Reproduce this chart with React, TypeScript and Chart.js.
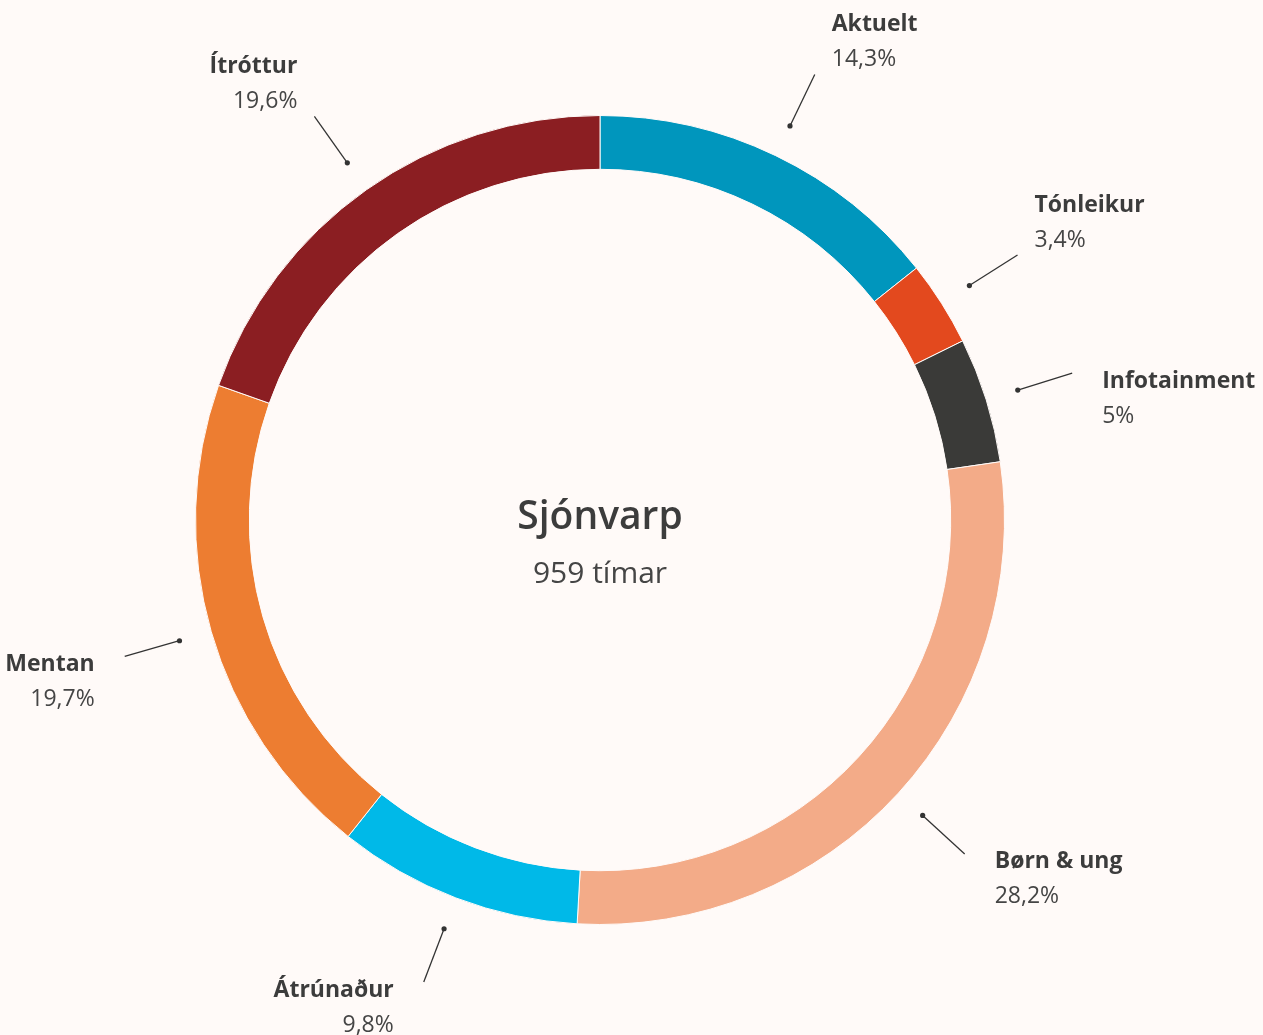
import React, { useEffect, useRef } from "react";
import { Chart, registerables } from "chart.js";

Chart.register(...registerables);

const categories = ["Aktuelt", "Tónleikur", "Infotainment", "Børn & ung", "Átrúnaður", "Mentan", "Ítróttur"];
const shares = [14.3, 3.4, 5, 28.2, 9.8, 19.7, 19.6];
const shareLabels = ["14,3%", "3,4%", "5%", "28,2%", "9,8%", "19,7%", "19,6%"];
const colors = ["#0096bd", "#e3491e", "#3a3a38", "#f3ab88", "#00b9e8", "#ed7d31", "#8b1e22"];
const centerTitle = "Sjónvarp";
const centerSubtitle = "959 tímar";

const BG = "#fffaf8";
const FONT = "'Open Sans'";

const labelPlugin = {
  id: "sliceLabels",
  afterDatasetsDraw(chart: any) {
    const ctx = chart.ctx as CanvasRenderingContext2D;
    const meta = chart.getDatasetMeta(0);
    ctx.save();
    meta.data.forEach((arc: any, i: number) => {
      const { x, y, startAngle, endAngle, outerRadius } = arc.getProps(
        ["x", "y", "startAngle", "endAngle", "outerRadius"],
        true
      );
      const mid = (startAngle + endAngle) / 2;
      const ux = Math.cos(mid);
      const uy = Math.sin(mid);
      const r1 = outerRadius + 33;
      const r2 = outerRadius + 90;
      const x1 = x + ux * r1, y1 = y + uy * r1;
      const x2 = x + ux * r2, y2 = y + uy * r2;
      ctx.strokeStyle = "#333333";
      ctx.lineWidth = 1.3;
      ctx.beginPath();
      ctx.moveTo(x1, y1);
      ctx.lineTo(x2, y2);
      ctx.stroke();
      ctx.fillStyle = "#333333";
      ctx.beginPath();
      ctx.arc(x1, y1, 2.6, 0, Math.PI * 2);
      ctx.fill();

      const upper = uy < -0.45;
      const side = ux >= 0 ? 1 : -1;
      const lx = x2 + side * (upper ? 17 : 30);
      const ly = y2 + (upper ? -50 : 8);
      ctx.textAlign = side > 0 ? "left" : "right";
      ctx.textBaseline = "middle";
      ctx.fillStyle = "#3c3c3c";
      ctx.font = `700 23px ${FONT}`;
      ctx.fillText(categories[i], lx, ly);
      ctx.fillStyle = "#454545";
      ctx.font = `400 23px ${FONT}`;
      ctx.fillText(shareLabels[i], lx, ly + 35);
    });
    const a = meta.data[0];
    ctx.textAlign = "center";
    ctx.textBaseline = "middle";
    ctx.fillStyle = "#3c3c3c";
    ctx.font = `600 39px ${FONT}`;
    ctx.fillText(centerTitle, a.x, a.y - 2);
    ctx.fillStyle = "#454545";
    ctx.font = `400 30px ${FONT}`;
    ctx.fillText(centerSubtitle, a.x, a.y + 54);
    ctx.restore();
  },
};

export default function App() {
  const ref = useRef<HTMLCanvasElement>(null);
  useEffect(() => {
    document.body.style.margin = "0";
    document.body.style.background = BG;
    const chart = new Chart(ref.current!, {
      type: "doughnut",
      data: {
        labels: categories,
        datasets: [
          {
            data: shares,
            backgroundColor: colors,
            borderColor: BG,
            borderWidth: 1,
            hoverOffset: 0,
          },
        ],
      },
      options: {
        animation: false,
        responsive: false,
        cutout: "86.7%",
        layout: { padding: { left: 195, right: 258, top: 115, bottom: 110 } },
        plugins: { legend: { display: false }, tooltip: { enabled: false } },
      },
      plugins: [labelPlugin],
    });
    return () => chart.destroy();
  }, []);
  return (
    <div style={{ width: 1263, height: 1035, background: BG }}>
      <canvas ref={ref} width={1263} height={1035} style={{ display: "block" }} />
    </div>
  );
}
